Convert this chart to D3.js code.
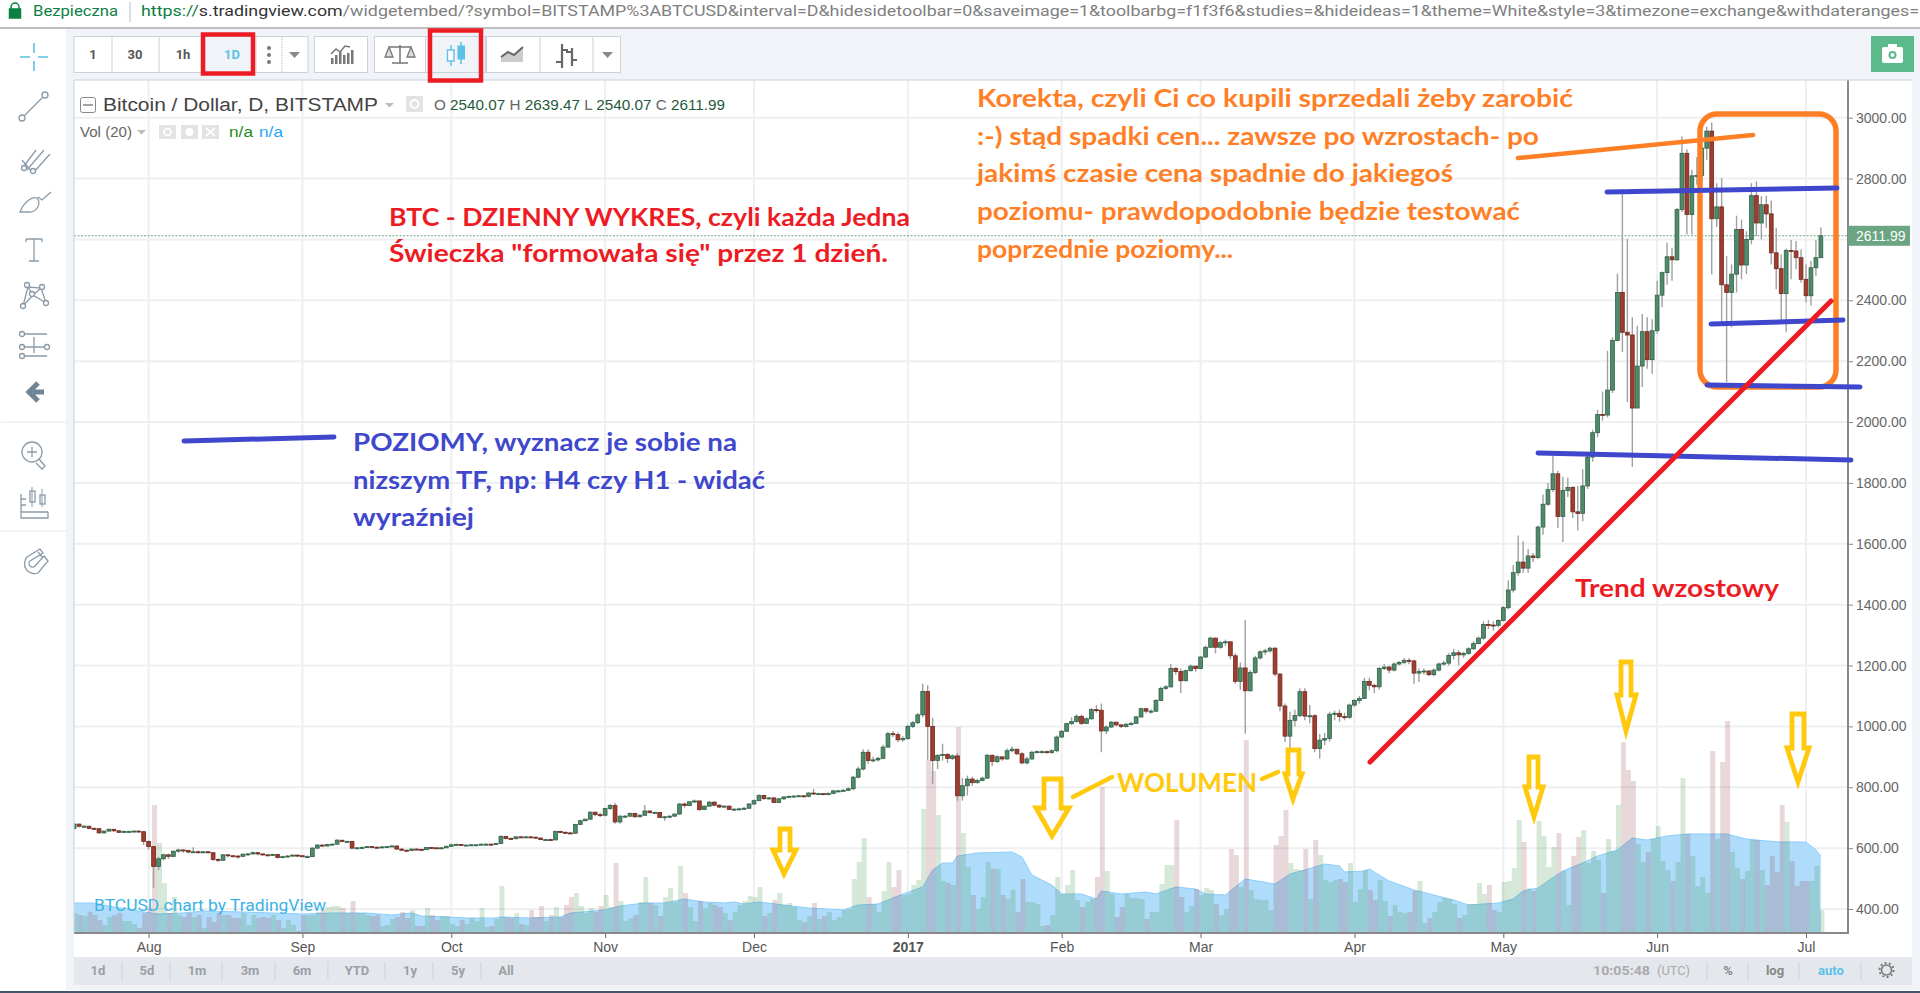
<!DOCTYPE html>
<html><head><meta charset="utf-8">
<script src="https://cdn.jsdelivr.net/npm/d3@7/dist/d3.min.js"></script>
<style>html,body{margin:0;padding:0;background:#fff;overflow:hidden}svg{display:block}text{font-family:"Liberation Sans",Arial,sans-serif}</style>
</head><body><svg id="c" width="1920" height="993"></svg>
<script>
// ---------- data: one value per day, 17 Jul 2016 .. 4 Jul 2017 ----------
const firstDay = "2016-07-17";
const firstOpen = 665;
const closes = [
679,672,672,665,664,650,656,662,657,652,655,655,656,654,622,
605,540,565,578,573,590,594,592,587,588,587,588,585,563,560,578,575,574,573,580,581,585,581,578,577,579,569,572,574,577,575,
572,572,600,610,607,612,613,626,622,622,600,601,602,605,603,602,604,605,607,597,593,592,597,596,595,602,601,600,601,606,
611,612,610,610,611,611,613,613,612,615,638,632,631,637,636,637,636,633,628,628,627,655,652,650,649,678,690,695,718,710,708,
730,740,686,705,705,714,703,708,722,717,717,701,703,705,712,745,740,752,755,727,738,751,741,735,738,727,728,729,731,745,
756,773,763,765,750,762,768,770,771,772,770,781,778,779,776,780,788,788,790,795,833,860,915,888,890,895,932,976,973,956,960,
1000,1012,1038,1115,1000,888,905,908,895,903,772,805,827,815,822,830,905,885,900,893,920,925,910,880,893,915,917,917,914,920,965,
984,1009,1016,1033,1010,1025,1055,1053,985,998,1014,1005,1000,1007,1010,1031,1058,1050,1050,1085,1125,1130,1190,1180,1150,1183,1198,1190,
1228,1260,1290,1260,1275,1278,1232,1148,1192,1117,1177,1225,1245,1248,1257,1172,1067,968,1020,1036,1114,1034,1035,927,955,960,1040,1043,1032,1030,1070,
1085,1092,1148,1135,1130,1190,1195,1185,1205,1210,1217,1215,1175,1180,1182,1170,1185,1205,1208,1233,1242,1235,1240,1255,1272,1290,1335,1333,1332,1348,
1390,1448,1505,1540,1520,1560,1555,1655,1730,1778,1830,1690,1775,1785,1705,1700,1790,1885,1965,2025,2023,2105,2268,2426,2295,2286,2046,2184,2297,2205,2300,
2417,2491,2543,2533,2698,2883,2682,2809,2810,2900,2956,2668,2707,2451,2426,2486,2633,2516,2600,2744,2654,2714,2684,2556,2504,2422,2564,2562,2540,2469,
2415,2507,2540.07,2611.99];
const highs = [
682,680,675,672,668,665,658,664,663,658,658,657,658,658,656,
625,606,572,582,582,592,598,596,592,603,592,590,589,586,567,580,579,577,577,582,584,588,587,582,580,582,580,575,577,580,579,
578,576,603,613,612,614,616,630,627,625,624,604,605,607,606,605,606,607,610,609,599,596,599,599,598,604,604,602,604,608,
614,615,613,612,613,613,615,616,615,618,642,641,635,640,639,640,639,638,636,631,631,658,657,655,654,680,693,697,722,720,716,
733,745,748,708,709,717,716,712,742,724,720,719,706,708,714,748,750,755,760,756,740,755,754,744,741,740,731,733,735,748,
760,777,775,768,767,765,771,773,774,775,774,784,795,782,781,783,792,792,794,800,838,868,925,925,900,900,940,982,985,980,968,
1005,1018,1044,1140,1135,1028,908,943,912,908,912,830,838,835,828,835,910,908,905,900,927,935,925,915,900,920,921,922,920,925,970,
988,1012,1030,1040,1038,1030,1060,1070,1075,1003,1018,1012,1006,1012,1015,1035,1062,1060,1056,1090,1130,1135,1205,1195,1190,1187,1203,1198,
1232,1265,1295,1292,1280,1285,1240,1240,1210,1350,1185,1232,1250,1255,1262,1260,1175,1075,1048,1055,1125,1125,1070,1040,975,978,1048,1052,1055,1045,1075,
1090,1100,1160,1160,1140,1195,1205,1200,1210,1215,1225,1225,1220,1190,1190,1185,1190,1210,1215,1240,1255,1250,1245,1260,1280,1296,1345,1350,1345,1352,
1395,1480,1530,1627,1608,1583,1570,1660,1762,1800,1890,1840,1820,1817,1790,1790,1845,1900,1975,2040,2100,2234,2278,2488,2752,2602,2344,2316,2355,2344,2338,
2464,2495,2589,2573,2703,2938,2896,2829,2870,2905,2970,2984,2785,2802,2545,2518,2678,2665,2627,2785,2791,2742,2744,2728,2638,2551,2570,2598,2595,2567,
2518,2529,2598,2639.47];
const lows = [
662,668,668,662,660,648,648,654,653,650,650,652,653,652,610,
595,470,528,560,565,570,585,585,583,585,583,583,582,558,555,558,570,570,565,572,576,578,577,575,573,574,566,567,570,572,571,
570,569,571,598,604,605,610,612,619,619,596,597,599,601,600,600,601,602,604,595,591,589,591,593,593,594,598,598,598,600,
604,609,608,607,608,608,610,611,610,610,614,629,628,629,633,634,633,631,626,625,625,626,649,648,646,647,676,688,694,705,702,
705,725,680,680,700,702,700,701,706,713,714,699,690,698,703,710,733,738,748,722,725,735,738,732,733,725,725,726,727,729,
742,754,758,760,748,748,758,765,767,768,766,767,775,775,774,773,777,784,786,788,790,830,855,878,882,885,892,930,965,948,950,
955,995,1008,1030,890,810,860,888,880,890,756,756,773,805,812,820,828,870,880,887,890,915,905,875,875,890,912,912,910,910,915,
962,982,1005,1012,1005,1008,1022,1045,915,975,995,1000,995,996,1003,1008,1028,1042,1042,1048,1083,1120,1128,1170,1110,1148,1180,1180,
1188,1225,1258,1240,1255,1265,1220,1140,1120,976,1115,1172,1220,1235,1243,1165,1050,949,925,1000,1030,1020,1010,915,894,938,950,1020,1015,1020,1025,
1065,1075,1090,1118,1110,1120,1185,1175,1180,1200,1205,1205,1140,1146,1170,1165,1165,1180,1200,1200,1220,1200,1225,1235,1252,1270,1285,1320,1315,1325,
1345,1385,1440,1495,1505,1505,1540,1550,1630,1725,1770,1652,1606,1754,1685,1644,1674,1780,1870,1950,2005,2015,2095,2265,2230,2066,1853,2046,2115,2175,2158,
2290,2377,2451,2464,2530,2690,2616,2616,2780,2790,2862,2485,2641,2316,2131,2311,2426,2469,2486,2584,2611,2600,2638,2518,2436,2322,2295,2469,2502,2458,
2393,2382,2480,2540.07];
const volumes = [
19,17,16,20,17,12,7,15,17,19,11,11,8,4,19,
24,127,89,49,19,35,17,15,19,15,17,4,15,10,19,17,17,14,14,19,7,17,14,15,14,17,12,4,12,7,1,
17,17,17,20,22,25,26,26,24,19,31,19,19,17,16,17,6,7,13,15,20,14,22,6,6,24,17,12,16,16,
8,6,12,8,14,11,24,5,6,13,46,15,14,19,8,7,22,15,26,11,17,25,15,27,35,39,26,19,24,20,26,
37,25,69,31,11,14,17,30,55,29,27,16,35,44,30,66,39,25,11,31,24,29,27,25,19,12,20,27,31,36,
35,45,16,19,32,39,27,29,25,12,10,16,29,13,16,20,12,15,22,23,53,70,94,35,28,20,41,70,45,62,37,
38,47,52,123,172,161,117,51,49,47,205,99,65,37,23,35,70,63,63,37,33,42,20,53,30,30,28,6,7,17,55,
38,47,62,32,25,30,33,55,145,61,38,15,25,38,34,34,33,13,20,20,48,67,67,112,35,20,26,43,
37,44,42,28,17,23,83,77,45,192,42,33,32,32,22,87,96,122,69,63,62,83,33,92,77,52,50,52,53,50,69,
30,43,62,42,32,52,31,16,27,20,19,20,41,51,9,14,20,30,34,33,28,14,17,28,28,49,38,47,22,20,
50,51,64,112,90,44,41,111,96,65,85,99,61,27,76,95,102,69,81,72,39,93,81,127,190,162,151,88,70,80,93,
106,71,62,51,70,154,98,76,46,55,39,181,93,170,211,80,64,53,61,92,92,62,47,76,60,127,110,71,46,51,
51,51,66,22];
const maDates = ["2016-07-17","2016-07-21","2016-07-25","2016-07-28","2016-07-31","2016-08-03","2016-08-08","2016-08-12","2016-08-20","2016-09-01","2016-09-07","2016-09-14","2016-09-19","2016-09-23","2016-09-25","2016-09-30","2016-10-04","2016-10-10","2016-10-11","2016-10-17","2016-10-23","2016-10-25","2016-11-01","2016-11-04","2016-11-09","2016-11-13","2016-11-17","2016-11-21","2016-11-25","2016-11-27","2016-11-29","2016-12-02","2016-12-07","2016-12-12","2016-12-19","2016-12-22","2016-12-26","2016-12-30","2017-01-04","2017-01-06","2017-01-08","2017-01-10","2017-01-11","2017-01-15","2017-01-22","2017-01-24","2017-01-26","2017-01-30","2017-02-01","2017-02-05","2017-02-08","2017-02-09","2017-02-13","2017-02-18","2017-02-20","2017-02-24","2017-02-28","2017-03-02","2017-03-06","2017-03-10","2017-03-16","2017-03-19","2017-03-22","2017-03-26","2017-03-29","2017-03-30","2017-04-03","2017-04-04","2017-04-08","2017-04-13","2017-04-17","2017-04-21","2017-04-24","2017-04-30","2017-05-03","2017-05-05","2017-05-08","2017-05-10","2017-05-13","2017-05-17","2017-05-20","2017-05-24","2017-05-27","2017-05-30","2017-06-03","2017-06-07","2017-06-11","2017-06-15","2017-06-19","2017-06-23","2017-06-26","2017-07-01","2017-07-03","2017-07-04"];
const maValues = [29,29,25,23,20,18,19,21,20,18,19,19,17,19,16,15,14,14,15,14,15,19,22,26,29,29,33,30,29,30,28,30,27,24,22,27,28,36,45,62,69,69,76,79,80,75,57,47,38,38,33,41,38,40,38,45,43,38,37,53,48,58,62,68,66,60,61,63,51,42,37,32,27,29,33,41,44,51,61,69,76,82,94,92,96,98,98,98,93,91,90,90,82,76];
const priceTicks = [400,600,800,1000,1200,1400,1600,1800,2000,2200,2400,2600,2800,3000];
const monthTicks = ["2016-08-01","2016-09-01","2016-10-01","2016-11-01","2016-12-01","2017-01-01","2017-02-01","2017-03-01","2017-04-01","2017-05-01","2017-06-01","2017-07-01"];
const monthLabels = ["Aug","Sep","Oct","Nov","Dec","2017","Feb","Mar","Apr","May","Jun","Jul"];
const lastClose = 2611.99;
const redLines = ["BTC - DZIENNY WYKRES, czyli każda Jedna","Świeczka \"formowała się\" przez 1 dzień."];
const orangeLines = ["Korekta, czyli Ci co kupili sprzedali żeby zarobić",":-) stąd spadki cen... zawsze po wzrostach- po","jakimś czasie cena spadnie do jakiegoś","poziomu- prawdopodobnie będzie testować","poprzednie poziomy..."];
const blueLines = ["POZIOMY, wyznacz je sobie na","nizszym TF, np: H4 czy H1 - widać","wyraźniej"];
const rangeButtons = ["1d","5d","1m","3m","6m","YTD","1y","5y","All"];

// ---------- scales ----------
const parse = d3.utcParse("%Y-%m-%d");
const DAY = 864e5;
const start = parse(firstDay).getTime();
const rows = closes.map((c,i)=>({date:new Date(start+i*DAY),open:i?closes[i-1]:firstOpen,close:c,high:highs[i],low:lows[i],vol:volumes[i]}));
const plot = {l:74,r:1848,t:80,b:933};
const x = d3.scaleUtc().domain([parse("2016-08-01"),parse("2017-07-01")]).range([148.6,1806]);
const y = d3.scaleLinear().domain([400,3000]).range([909,117.7]);
const yVol = d3.scaleLinear().domain([0,211]).range([932,721]);

const svg = d3.select("#c");
const GREY="#8a9aa8";
function rect(g,a,b,w,h,fill,stroke,sw,rx){return g.append("rect").attr("x",a).attr("y",b).attr("width",w).attr("height",h).attr("fill",fill||"none").attr("stroke",stroke||"none").attr("stroke-width",sw||0).attr("rx",rx||0);}
function line(g,a,b,c,d,col,w,cap){return g.append("line").attr("x1",a).attr("y1",b).attr("x2",c).attr("y2",d).attr("stroke",col).attr("stroke-width",w).attr("stroke-linecap",cap||"butt");}
function text(g,s,a,b,size,col,o){o=o||{};const t=g.append("text").attr("x",a).attr("y",b).attr("font-size",size).attr("fill",col).text(s);
 if(o.weight)t.attr("font-weight",o.weight);if(o.family)t.style("font-family",o.family);if(o.anchor)t.attr("text-anchor",o.anchor);
 if(o.len)t.attr("textLength",o.len).attr("lengthAdjust","spacingAndGlyphs");return t;}
function path(g,d,col,w,fill){return g.append("path").attr("d",d).attr("stroke",col).attr("stroke-width",w||1).attr("fill",fill||"none");}

// ---------- page chrome ----------
rect(svg,0,0,1920,993,"#fff");
const chrome=svg.append("g");
line(chrome,0,28,1920,28,"#a8a8a8",1.5);
rect(chrome,66,29,1854,51,"#f0f3f7");
rect(chrome,66,80,8,910,"#f0f3f7");
rect(chrome,1912,80,8,910,"#f0f3f7");
rect(chrome,66,985,1854,5,"#f0f3f7");
rect(chrome,0,991,1920,2,"#46566a");
path(chrome,"M11 9 v-2 a4 4 0 0 1 8 0 v2 M9.5 9 h11 v9 h-11 z","#0b8043",1.5,"none");
rect(chrome,9.5,9,11,9,"#0b8043");
text(chrome,"Bezpieczna",33,16,14,"#0b8043",{family:"Roboto",len:85});
line(chrome,130,2,130,22,"#bbb",1);
const url=chrome.append("text").attr("x",141).attr("y",16).attr("font-size",14.5).style("font-family","Roboto").attr("textLength",1778).attr("lengthAdjust","spacingAndGlyphs");
url.append("tspan").attr("fill","#0b8043").text("https://");
url.append("tspan").attr("fill","#333").text("s.tradingview.com");
url.append("tspan").attr("fill","#808080").text("/widgetembed/?symbol=BITSTAMP%3ABTCUSD&interval=D&hidesidetoolbar=0&saveimage=1&toolbarbg=f1f3f6&studies=&hideideas=1&theme=White&style=3&timezone=exchange&withdateranges=");

// top toolbar
const tb=svg.append("g");
rect(tb,74,36.5,234,36,"#fff","#ccd2d8",1);
[112,159,205,256].forEach(v=>line(tb,v,36.5,v,72.5,"#ccd2d8",1));
rect(tb,205.5,37,50,35,"#f0f3f7");
[["1",93,"#555"],["30",135,"#555"],["1h",183,"#555"],["1D",232,"#5cc0e8"]].forEach(d=>text(tb,d[0],d[1],59,13,d[2],{weight:"bold",anchor:"middle",family:"Roboto"}));
[48,55,62].forEach(v=>tb.append("circle").attr("cx",269).attr("cy",v).attr("r",2).attr("fill","#777"));
line(tb,282,37,282,72,"#bbb",1).attr("stroke-dasharray","1 1");
path(tb,"M289 52 h11 l-5.5 6 z","none",0,"#888");
rect(tb,314.5,36.5,53,36,"#fff","#ccd2d8",1);
rect(tb,374.5,36.5,111,36,"#fff","#ccd2d8",1);
rect(tb,425,37,60,35,"#f0f3f7");
line(tb,425.5,36.5,425.5,72.5,"#ccd2d8",1);
rect(tb,486.5,36.5,134,36,"#fff","#ccd2d8",1);
[540,593].forEach(v=>line(tb,v,36.5,v,72.5,"#ccd2d8",1));
path(tb,"M602 52 h11 l-5.5 6 z","none",0,"#888");
[[331,58,6],[335,55,9],[339,52,12],[343,55,9],[347,53,11],[351,50,14]].forEach(d=>rect(tb,d[0],d[1],2.5,d[2],"#777"));
path(tb,"M331 54 l5 -5 l4 3 l5 -6 l5 1","#777",1.5);
path(tb,"M400 45 v18 M392 63 h16 M389 47 h22","#777",1.5);
path(tb,"M389 47 l-4 10 h8 z M411 47 l-4 10 h8 z","#777",1.3,"#ddd");
path(tb,"M451 45 v21 M461 42 v22","#5cc0e8",1.5);
rect(tb,447.5,50,6.5,11,"#fff","#5cc0e8",1.4);rect(tb,458,46,6.5,13,"#5cc0e8","#5cc0e8",1);
path(tb,"M501 57 l7 -5 l6 3 l9 -8 v15 h-22 z","none",0,"#ccc");
path(tb,"M501 57 l7 -5 l6 3 l9 -8","#666",2);
path(tb,"M562 44 v24 M572 48 v18 M556 62 h6 M562 50 h6 M566 52 h6 M572 60 h5","#666",2.2);
rect(tb,1871,36,43,36,"#5cb98a");
rect(tb,1882,47,21,16,"#fff",null,0,2);rect(tb,1888,44,9,4,"#fff");
svg.append("circle").attr("cx",1892.5).attr("cy",55).attr("r",4).attr("fill","#5cb98a");
svg.append("circle").attr("cx",1892.5).attr("cy",55).attr("r",2).attr("fill","#fff");

// left sidebar
const sb=svg.append("g").attr("fill","none").attr("stroke",GREY).attr("stroke-width",1.3);
path(sb,"M20 57 h10 M38 57 h10 M34 43 v10 M34 61 v10","#5bc0de",1.6);
function ring(a,b,r){sb.append("circle").attr("cx",a).attr("cy",b).attr("r",r).attr("fill","#fff");}
path(sb,"M23 117 L44 96",GREY,1.3);ring(22,118,3);ring(45,95,3);
path(sb,"M24 166 L36 150 M27 170 L44 150 M34 172 L50 154 M22 160 L32 172",GREY,1.3);ring(24,168,2.5);ring(33,171,2.5);
path(sb,"M20 212 C24 202 32 196 37 198 C42 204 36 212 30 212 Z M38 197 l4 3 l9 -8",GREY,1.3);
path(sb,"M26 239 h16 M26 239 v3 M42 239 v3 M34 239 v22 M29 261 h10",GREY,1.3);
path(sb,"M23 306 L28 287 L41 288 L46 303 M28 287 L33 295 L46 303 M23 306 L33 295 L41 288",GREY,1.3);ring(23,306,2.5);ring(27,285,2.5);ring(42,287,2.5);ring(46,303,2.5);ring(32,294,2.5);
path(sb,"M24 334 h23 M24 356 h23 M24 347 h20 M34 337 v16",GREY,1.3);ring(22,334,2.5);ring(22,356,2.5);ring(22,347,2.5);ring(47,347,2.5);
path(sb,"M44 392 H33 M38 383 L29 392 L38 401",  "#6f8596",5);
line(svg,1,422,66,422,"#e4e7ec",1);line(svg,1,531,66,531,"#e4e7ec",1);
sb.append("circle").attr("cx",32).attr("cy",452).attr("r",10);
path(sb,"M27 452 h10 M32 447 v10 M39 459 l6 7 l-3 3 l-6 -6",GREY,1.3);
path(sb,"M21 494 v24 h27 v-6 M21 512 h27 M21 499 h5 M21 505 h5",GREY,1.3);
sb.append("rect").attr("x",30).attr("y",491).attr("width",5).attr("height",11);sb.append("rect").attr("x",40).attr("y",495).attr("width",5).attr("height",9);
path(sb,"M32 487 v20 M42 489 v18",GREY,1);
path(sb,"M40 549 L27 557 A10 10 0 0 0 38 573 L48 561 L44 556 L35 566 A3.5 3.5 0 0 1 30 561 L43 553 Z M38 552 l5 6 M31 568 l0 0",GREY,1.3);

// ---------- plot ----------
rect(svg,plot.l,plot.t,plot.r-plot.l,plot.b-plot.t,"#fff");
svg.append("defs").append("clipPath").attr("id","pc").append("rect").attr("x",plot.l).attr("y",plot.t).attr("width",plot.r-plot.l).attr("height",plot.b-plot.t);
const pg=svg.append("g").attr("clip-path","url(#pc)");
pg.append("g").selectAll("line").data(monthTicks).join("line").attr("x1",d=>x(parse(d))).attr("x2",d=>x(parse(d))).attr("y1",plot.t).attr("y2",plot.b).attr("stroke","#eeeff1").attr("stroke-width",2);
pg.append("g").selectAll("line").data(priceTicks).join("line").attr("x1",plot.l).attr("x2",plot.r).attr("y1",d=>y(d)).attr("y2",d=>y(d)).attr("stroke","#eeeff1").attr("stroke-width",2);

// volume MA area
const maPts=maDates.map((d,i)=>({date:parse(d),v:maValues[i]}));
const area=d3.area().x(d=>x(d.date)).y0(yVol(0)).y1(d=>yVol(d.v));
pg.append("path").datum(maPts).attr("d",area).attr("fill","#b0dcfb");
pg.append("path").datum(maPts).attr("d",d3.line().x(d=>x(d.date)).y(d=>yVol(d.v))).attr("fill","none").attr("stroke","#8ccdfa").attr("stroke-width",1);
// volume bars
const up=d=>d.close>=d.open;
const BW=4.96;
pg.append("g").selectAll("rect").data(rows).join("rect")
 .attr("x",d=>x(d.date)-BW/2+1).attr("width",BW).attr("y",d=>yVol(d.vol)).attr("height",d=>yVol(0)-yVol(d.vol))
 .attr("fill",d=>up(d)?"rgba(50,140,60,0.2)":"rgba(140,60,70,0.2)");

// last price dotted line
pg.append("line").attr("x1",plot.l).attr("x2",plot.r).attr("y1",y(lastClose)).attr("y2",y(lastClose)).attr("stroke","#6ba583").attr("stroke-width",1).attr("stroke-dasharray","2 1.5");

// candles
const cg=pg.append("g");
cg.selectAll("line").data(rows).join("line").attr("x1",d=>x(d.date)).attr("x2",d=>x(d.date)).attr("y1",d=>y(d.high)).attr("y2",d=>y(d.low)).attr("stroke","#a0a0a0").attr("stroke-width",1.4);
cg.selectAll("rect").data(rows).join("rect")
 .attr("x",d=>x(d.date)-1.9).attr("width",3.8)
 .attr("y",d=>Math.min(y(d.open),y(d.close))).attr("height",d=>Math.max(1,Math.abs(y(d.open)-y(d.close))))
 .attr("fill",d=>up(d)?"#4f8a6a":"#a23c2c").attr("stroke",d=>up(d)?"#2f6248":"#6d2a20").attr("stroke-width",0.8);

// watermark
text(svg,"BTCUSD chart by TradingView",94,911,16,"#3bb3e4",{family:"Roboto",len:232});

// axes
const ya=svg.append("g").attr("transform",`translate(${plot.r},0)`).call(d3.axisRight(y).tickValues(priceTicks.filter(d=>d!==2600)).tickFormat(d3.format(".2f")).tickSize(5));
ya.select(".domain").remove();
ya.selectAll("line").attr("stroke","#888");
ya.selectAll("text").attr("font-size",14).attr("fill","#666").attr("x",8).style("font-family","Liberation Sans");
const xa=svg.append("g").attr("transform",`translate(0,${plot.b})`).call(d3.axisBottom(x).tickValues(monthTicks.map(parse)).tickFormat((d,i)=>monthLabels[i]).tickSize(5));
xa.select(".domain").remove();
xa.selectAll("line").attr("stroke","#666");
xa.selectAll("text").attr("font-size",14).attr("fill","#555").attr("y",9).style("font-family","Liberation Sans").attr("font-weight",(d,i)=>monthLabels[i]==="2017"?"bold":null);
line(svg,plot.r,plot.t,plot.r,plot.b+1,"#888",2);
line(svg,plot.l,plot.b,plot.r,plot.b,"#888",2);
line(svg,plot.l,plot.t,plot.l,plot.b,"#ccd2d8",1);
line(svg,plot.l,plot.t,1912,plot.t,"#ccd2d8",1);

// last price tag
rect(svg,plot.r,y(lastClose)-10,62,20,"#6ba583");
text(svg,d3.format(".2f")(lastClose),1856,y(lastClose)+5,14,"#fff");

// legend
rect(svg,80.5,97.5,15,15,"none","#888",1,2);line(svg,83,105,93,105,"#888",1.5);
text(svg,"Bitcoin / Dollar, D, BITSTAMP",103,111,18,"#444",{len:275});
path(svg,"M385 103 h9 l-4.5 4.5 z","none",0,"#bbb");
rect(svg,406,96,17,16,"#e3e3e3");svg.append("circle").attr("cx",414.5).attr("cy",104).attr("r",4).attr("fill","none").attr("stroke","#fff").attr("stroke-width",2);
const ohlc=svg.append("text").attr("x",434).attr("y",110).attr("font-size",14.5).attr("fill","#666").attr("textLength",291).attr("lengthAdjust","spacingAndGlyphs");
[["O ",0],["2540.07",1],[" H ",0],["2639.47",1],[" L ",0],["2540.07",1],[" C ",0],["2611.99",1]].forEach(d=>ohlc.append("tspan").attr("fill",d[1]?"#1f5a3a":"#666").text(d[0]));
text(svg,"Vol (20)",80,137,14,"#666",{len:52});
path(svg,"M137 130 h9 l-4.5 4.5 z","none",0,"#bbb");
[159,181,202].forEach(v=>rect(svg,v,125,17,14,"#e3e3e3"));
svg.append("circle").attr("cx",167.5).attr("cy",132).attr("r",3.5).attr("fill","none").attr("stroke","#fff").attr("stroke-width",1.8);
svg.append("circle").attr("cx",189.5).attr("cy",132).attr("r",4).attr("fill","#fff");
path(svg,"M206 128 l9 8 M215 128 l-9 8","#fff",1.8);
text(svg,"n/a",229,137,14,"#228b22",{len:24});
text(svg,"n/a",259,137,14,"#26a6f5",{len:24});

// bottom bar
const bb=svg.append("g");
rect(bb,74,957,1838,28,"#e4e7ec");
[98,147,197,250,302,357,410,458,506].forEach((v,i)=>text(bb,rangeButtons[i],v,975,13,"#9aa0a6",{weight:"bold",anchor:"middle",family:"Roboto"}));
[122,170,222,275,328,385,433,481].forEach(v=>line(bb,v,962,v,980,"#cfd3d8",1));
text(bb,"10:05:48",1593,975,13.5,"#aaa",{weight:"bold",family:"Roboto",len:57});
text(bb,"(UTC)",1657,975,13.5,"#aaa",{family:"Roboto",len:33});
text(bb,"%",1728,975,13,"#888",{weight:"bold",anchor:"middle",family:"Roboto"});
text(bb,"log",1775,975,13,"#888",{weight:"bold",anchor:"middle",family:"Roboto"});
text(bb,"auto",1831,975,13,"#5cc0e8",{weight:"bold",anchor:"middle",family:"Roboto"});
[1707,1748,1799,1861].forEach(v=>line(bb,v,962,v,980,"#cfd3d8",1));
bb.append("circle").attr("cx",1886.5).attr("cy",970).attr("r",5).attr("fill","none").attr("stroke","#777").attr("stroke-width",1.5);
bb.append("circle").attr("cx",1886.5).attr("cy",970).attr("r",7).attr("fill","none").attr("stroke","#777").attr("stroke-width",2).attr("stroke-dasharray","2 2.4");

// ---------- hand-drawn annotations ----------
const an=svg.append("g").attr("stroke-linecap","round");
const RED="#ed1c24",ORANGE="#ff7f27",BLUE="#3f48cc",YEL="#ffc90e";
rect(an,203,34.5,50,39,"none",RED,4.5);
rect(an,430,30.5,51,50,"none",RED,4.5);
rect(an,1700,114,136,273,"none",ORANGE,5.5,17);
line(an,1518,158,1753,135,ORANGE,4.5,"round");
line(an,1607,192,1837,188,BLUE,5,"round");
line(an,1711,324,1843,320,BLUE,5,"round");
line(an,1707,385,1860,387,BLUE,5,"round");
line(an,1538,453,1851,460,BLUE,5,"round");
line(an,184,441,334,437,BLUE,5,"round");
line(an,1370,762,1831,301,RED,5,"round");
line(an,1073,797,1112,777,YEL,4.5,"round");
line(an,1262,779,1278,772,YEL,4.5,"round");
function arrow(l,r,top,head,wl,wr,tipx,tipy){path(an,`M${l} ${head} V${top} H${r} V${head} H${wr} L${tipx} ${tipy} L${wl} ${head} Z`,YEL,4.8).attr("stroke-linejoin","miter");}
arrow(1044,1061,779,808,1036,1069,1052,836);
arrow(1288,1299,750,774,1285,1302,1293,799);
arrow(780,790,829,850,773,796,784,874);
arrow(1529,1538,757,787,1525,1543,1534,817);
arrow(1621,1631,662,695,1617,1636,1626,731);
arrow(1792,1804,714,748,1787,1809,1798,782);

const LATO="Lato";
function block(lines,col,xs,ends,ys,size){lines.forEach((s,i)=>text(an,s,xs,ys[i],size,col,{weight:"bold",family:LATO,len:ends[i]-xs}));}
block(redLines,RED,389,[910,888],[226,262],24);
block(orangeLines,ORANGE,977,[1573,1539,1453,1520,1233],[107,145,182,220,258],24);
block(blueLines,BLUE,353,[737,765,474],[451,489,526],24);
text(an,"Trend wzostowy",1575,597,24,RED,{weight:"bold",family:LATO,len:204});
text(an,"WOLUMEN",1117,792,27,YEL,{weight:"bold",family:LATO,len:140});
</script></body></html>
